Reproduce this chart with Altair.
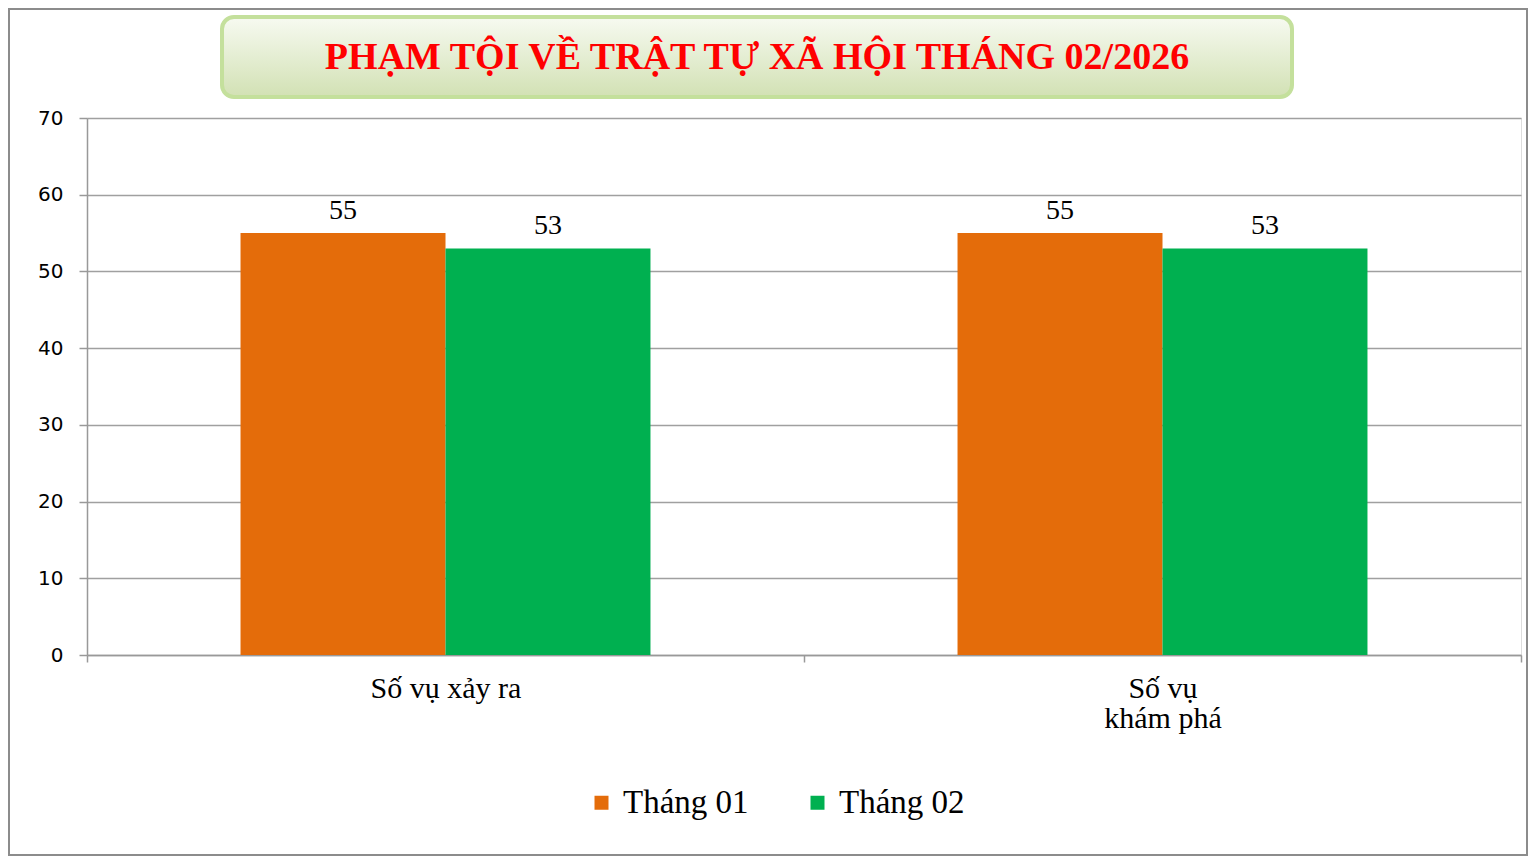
import altair as alt
import pandas as pd

categories = ["Số vụ xảy ra", "Số vụ khám phá"]
months = ["Tháng 01", "Tháng 02"]
values_thang01 = [55, 55]
values_thang02 = [53, 53]
colors = ["#E46C0A", "#00B050"]
title_text = "PHẠM TỘI VỀ TRẬT TỰ XÃ HỘI THÁNG 02/2026"

rows = []
for i, c in enumerate(categories):
    rows.append({"cat": c, "month": months[0], "value": values_thang01[i]})
    rows.append({"cat": c, "month": months[1], "value": values_thang02[i]})
df = pd.DataFrame(rows)

W, H = 1434, 537
PL, PT, PR, PB = 79, 110, 7, 201

x_enc = alt.X(
    "cat:N", sort=categories, title=None,
    scale=alt.Scale(paddingInner=0, paddingOuter=0),
    axis=alt.Axis(
        labelAngle=0, labelFont="Liberation Serif", labelFontSize=30, labelColor="black",
        labelBaseline="top", labelPadding=11, labelLineHeight=30,
        labelExpr="datum.value == 'Số vụ khám phá' ? ['Số vụ', 'khám phá'] : datum.value",
        tickBand="extent", tickSize=7, tickColor="#999999", tickWidth=1.5,
        domainColor="#999999", domainWidth=1.5, grid=False,
    ),
)
xo_scale = alt.Scale(paddingInner=0, paddingOuter=0.749)
color_enc = alt.Color(
    "month:N", sort=months, scale=alt.Scale(domain=months, range=colors),
    legend=alt.Legend(
        title=None, orient="none", legendX=498, legendY=668, direction="horizontal",
        symbolType="square", symbolSize=196, symbolStrokeWidth=0, labelFont="Liberation Serif",
        labelFontSize=33, labelColor="black", labelOffset=5, columnPadding=52,
    ),
)

bars = alt.Chart(df).mark_bar().encode(
    x=x_enc,
    xOffset=alt.XOffset("month:N", sort=months, scale=xo_scale),
    y=alt.Y(
        "value:Q", title=None,
        scale=alt.Scale(domain=[0, 70], nice=False),
        axis=alt.Axis(
            values=[0, 10, 20, 30, 40, 50, 60, 70], labelFont="DejaVu Sans", labelFontSize=20,
            labelColor="black", labelPadding=16, tickSize=8, tickColor="#999999", tickWidth=1.5,
            domainColor="#999999", domainWidth=1.5, gridColor="#a0a0a0", gridWidth=1.5,
        ),
    ),
    color=color_enc,
)

labels = alt.Chart(df).mark_text(
    font="Liberation Serif", fontSize=28, color="black", baseline="alphabetic", dy=-14
).encode(
    x=alt.X("cat:N", sort=categories),
    xOffset=alt.XOffset("month:N", sort=months, scale=xo_scale),
    y="value:Q",
    text="value:Q",
)

deco = pd.DataFrame({"k": [0]})

border = alt.Chart(deco).mark_rect(fill=None, stroke="#8c8c8c", strokeWidth=2).encode(
    x=alt.value(-PL + 1), x2=alt.value(W + PR - 1),
    y=alt.value(-PT + 1), y2=alt.value(H + PB - 1),
)

title_box = alt.Chart(deco).mark_rect(
    cornerRadius=12,
    stroke="#c4e09c",
    strokeWidth=4,
    fill=alt.Gradient(
        gradient="linear", x1=0, y1=0, x2=0, y2=1,
        stops=[alt.GradientStop(offset=0, color="#f7faf1"), alt.GradientStop(offset=1, color="#d2e1b4")],
    ),
).encode(
    x=alt.value(135), x2=alt.value(1205), y=alt.value(-101), y2=alt.value(-21),
)

title = alt.Chart(deco).mark_text(
    text=title_text, font="Liberation Serif", fontWeight="bold", fontSize=38,
    color="#ff0000", align="center", baseline="middle",
).encode(x=alt.value(670), y=alt.value(-60))

chart = alt.layer(border, title_box, title, bars, labels).properties(
    width=W, height=H,
    autosize=alt.AutoSizeParams(type="none"),
    padding={"left": PL, "top": PT, "right": PR, "bottom": PB},
).configure_view(stroke=None).configure(background="white")

chart.save("out.html", embed_options={"renderer": "svg", "actions": False})
